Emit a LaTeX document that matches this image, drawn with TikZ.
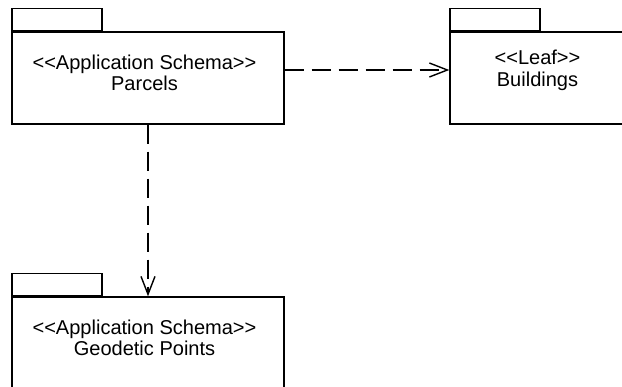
\documentclass[tikz,border=0pt]{standalone}
\usepackage{fontspec}
\setmainfont{Liberation Sans}
\usetikzlibrary{arrows.meta}
\tikzset{
  pkgbody/.style={draw=black, line width=0.8pt, minimum width=5.44cm, minimum height=1.84cm, inner sep=0pt},
  pkgtab/.style={draw=black, line width=0.8pt, minimum width=1.80cm, minimum height=0.44cm, inner sep=0pt, anchor=south west},
  pkglabel/.style={anchor=north, inner sep=0pt, align=center, font=\fontsize{11.4}{12.2}\selectfont},
  depends/.style={line width=0.8pt, dash pattern=on 0.38cm off 0.16cm, -{Straight Barb[length=0.36cm, width=0.28cm]}},
}
\begin{document}
\begin{tikzpicture}
\useasboundingbox (0,0) rectangle (12.44,7.74);
\clip (0,0) rectangle (12.44,7.74);
% packages
\node[pkgbody] (parcels) at (2.96,6.18) {};
\node[pkgtab] (parcels tab) at (parcels.north west) {};
\node[pkglabel] (parcels label) at (2.89,6.654) {{<}{<}Application Schema{>}{>}\\Parcels};
\node[pkgbody, minimum width=3.56cm] (buildings) at (10.78,6.18) {};
\node[pkgtab] (buildings tab) at (buildings.north west) {};
\node[pkglabel] (buildings label) at (10.75,6.74) {{<}{<}Leaf{>}{>}\\Buildings};
\node[pkgbody] (geodetic) at (2.96,0.88) {};
\node[pkgtab] (geodetic tab) at (geodetic.north west) {};
\node[pkglabel] (geodetic label) at (2.89,1.354) {{<}{<}Application Schema{>}{>}\\Geodetic Points};
% dependencies
\draw[depends] ([yshift=0.16cm]parcels.east) -- ([yshift=0.16cm]buildings.west);
\draw[depends] (parcels.south) -- (geodetic.north);
\end{tikzpicture}
\end{document}
